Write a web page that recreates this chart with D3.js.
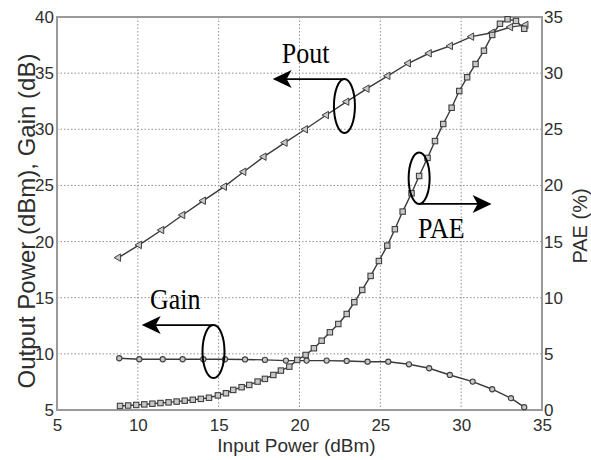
<!DOCTYPE html>
<html>
<head>
<meta charset="utf-8">
<script src="https://cdn.jsdelivr.net/npm/d3@7"></script>
<style>
  html, body { margin: 0; padding: 0; background: #fff; }
  svg { display: block; }
</style>
</head>
<body>
<script>
// ---- Data ----
const poutX = [8.8, 10.09, 11.47, 12.77, 14.05, 15.35, 16.55, 17.8, 19.1, 20.36, 21.66, 22.92, 24.17, 25.46, 26.73, 28.02, 29.33, 30.64, 31.92, 33.05, 34.0];
const poutY = [18.57, 19.7, 21.03, 22.37, 23.64, 24.89, 26.22, 27.56, 28.81, 30.0, 31.27, 32.46, 33.62, 34.76, 35.88, 36.77, 37.42, 38.25, 38.6, 39.1, 39.3];

const gainX = [8.85, 10.09, 11.54, 12.77, 14.05, 15.39, 16.63, 17.86, 19.16, 20.44, 21.68, 22.92, 24.21, 25.49, 26.77, 28.02, 29.3, 30.71, 31.92, 33.08, 33.9];
const gainY = [9.61, 9.52, 9.52, 9.52, 9.52, 9.52, 9.5, 9.46, 9.4, 9.4, 9.4, 9.37, 9.3, 9.3, 9.07, 8.72, 8.12, 7.53, 6.85, 6.05, 5.25];

const paeX = [8.9, 9.4, 9.9, 10.4, 10.9, 11.4, 11.9, 12.4, 12.9, 13.4, 13.9, 14.4,
  14.95, 15.45, 15.9, 16.42, 16.89, 17.41, 17.86, 18.38, 18.85, 19.37, 19.86, 20.38,
  20.89, 21.37, 21.88, 22.4, 22.92, 23.39, 23.88, 24.4, 24.91, 25.43, 25.9, 26.38,
  26.93, 27.4, 27.92, 28.38, 28.89, 29.41, 29.88, 30.37, 30.89, 31.41, 31.92, 32.4,
  32.87, 33.39, 33.9];
const paeY = [0.36, 0.4, 0.45, 0.5, 0.56, 0.62, 0.68, 0.75, 0.83, 0.91, 0.99, 1.09,
  1.3, 1.49, 1.79, 2.03, 2.23, 2.53, 2.77, 3.12, 3.51, 3.86, 4.46, 4.9,
  5.5, 6.17, 6.92, 7.66, 8.55, 9.6, 10.69, 11.94, 13.27, 14.64, 16.1, 17.67,
  19.3, 20.84, 22.45, 23.95, 25.47, 26.92, 28.41, 29.63, 30.81, 32.0, 33.4, 34.4,
  34.8, 34.65, 33.95];

const xTicks = [5, 10, 15, 20, 25, 30, 35];
const yLeftTicks = [5, 10, 15, 20, 25, 30, 35, 40];
const yRightTicks = [0, 5, 10, 15, 20, 25, 30, 35];

const xTitle = "Input Power (dBm)";
const yLeftTitle = "Output Power (dBm), Gain (dB)";
const yRightTitle = "PAE (%)";

// ---- Layout ----
const W = 591, H = 460;
const L = 57, R = 542, T = 17, B = 410;

const svg = d3.select("body").append("svg").attr("width", W).attr("height", H);

const x = d3.scaleLinear().domain([5, 35]).range([L, R]);
const yL = d3.scaleLinear().domain([5, 40]).range([B, T]);
const yR = d3.scaleLinear().domain([0, 35]).range([B, T]);

const gridColor = "#8f8f8f";
const frameColor = "#9a9a9a";
const textColor = "#2e2e2e";

// grid
const grid = svg.append("g");
grid.selectAll("line.gx").data(xTicks.slice(1, -1)).join("line")
  .attr("x1", d => x(d)).attr("x2", d => x(d)).attr("y1", T).attr("y2", B)
  .attr("stroke", gridColor).attr("stroke-width", 1).attr("stroke-dasharray", "1.5,2");
grid.selectAll("line.gy").data(yLeftTicks.slice(1, -1)).join("line")
  .attr("y1", d => yL(d)).attr("y2", d => yL(d)).attr("x1", L).attr("x2", R)
  .attr("stroke", gridColor).attr("stroke-width", 1).attr("stroke-dasharray", "1.5,2");

// frame
svg.append("rect").attr("x", L).attr("y", T).attr("width", R - L).attr("height", B - T)
  .attr("fill", "none").attr("stroke", frameColor).attr("stroke-width", 2);

// axes
const tickFont = "'Liberation Sans', Arial, sans-serif";
function styleAxis(g) {
  g.select(".domain").remove();
  g.selectAll("text").attr("font-family", tickFont).attr("font-size", 17).attr("fill", textColor);
}
svg.append("g").attr("transform", `translate(0,${B})`)
  .call(d3.axisBottom(x).tickValues(xTicks).tickSize(0).tickPadding(9).tickFormat(d3.format("d")))
  .call(styleAxis);
svg.append("g").attr("transform", `translate(${L},0)`)
  .call(d3.axisLeft(yL).tickValues(yLeftTicks).tickSize(0).tickPadding(3).tickFormat(d3.format("d")))
  .call(styleAxis);
svg.append("g").attr("transform", `translate(${R},0)`)
  .call(d3.axisRight(yR).tickValues(yRightTicks).tickSize(0).tickPadding(2).tickFormat(d3.format("d")))
  .call(styleAxis);

// titles
svg.append("text").attr("x", (L + R) / 2 - 3).attr("y", 452).attr("text-anchor", "middle")
  .attr("font-family", tickFont).attr("font-size", 19).attr("fill", textColor).text(xTitle);
svg.append("text").attr("transform", `translate(35,221) rotate(-90)`).attr("text-anchor", "middle")
  .attr("font-family", tickFont).attr("font-size", 24).attr("fill", textColor).text(yLeftTitle);
svg.append("text").attr("transform", `translate(587,226) rotate(-90)`).attr("text-anchor", "middle")
  .attr("font-family", tickFont).attr("font-size", 20).attr("fill", textColor).text(yRightTitle);

// series
const lineColor = "#3a3a3a";
const mkStroke = "#404040";
const mkFill = "#c8c8c8";
function series(xs, ys, yScale) {
  return xs.map((v, i) => [x(v), yScale(ys[i])]);
}
const pout = series(poutX, poutY, yL);
const gain = series(gainX, gainY, yL);
const pae = series(paeX, paeY, yR);
const lg = d3.line();
[pout, gain, pae].forEach(pts => {
  svg.append("path").attr("d", lg(pts)).attr("fill", "none")
    .attr("stroke", lineColor).attr("stroke-width", 1.4);
});
// markers
svg.append("g").selectAll("path").data(pout).join("path")
  .attr("d", d3.symbol(d3.symbolTriangle, 24)())
  .attr("transform", d => `translate(${d[0]},${d[1]}) rotate(-90)`)
  .attr("fill", mkFill).attr("stroke", mkStroke).attr("stroke-width", 1);
svg.append("g").selectAll("circle").data(gain).join("circle")
  .attr("cx", d => d[0]).attr("cy", d => d[1]).attr("r", 2.6)
  .attr("fill", mkFill).attr("stroke", mkStroke).attr("stroke-width", 1.1);
svg.append("g").selectAll("rect").data(pae).join("rect")
  .attr("x", d => d[0] - 2.7).attr("y", d => d[1] - 2.7).attr("width", 5.4).attr("height", 5.4)
  .attr("fill", mkFill).attr("stroke", mkStroke).attr("stroke-width", 1.1);

// annotations (in data coordinates)
const annFont = "'Liberation Serif', 'Times New Roman', serif";
function arrowHead(tx, ty, dir) {
  const len = 19, half = 9, notch = 14;
  const p = [[tx, ty], [tx - dir * len, ty - half], [tx - dir * notch, ty], [tx - dir * len, ty + half]];
  svg.append("path").attr("d", "M" + p.map(q => q.join(",")).join("L") + "Z").attr("fill", "#000");
}
function annotation(o) {
  const cx = x(o.cx), cy = o.yScale(o.cy);
  svg.append("ellipse").attr("cx", cx).attr("cy", cy).attr("rx", o.rx).attr("ry", o.ry)
    .attr("fill", "none").attr("stroke", "#000").attr("stroke-width", 2);
  const ly = o.fromTop ? cy - o.ry : cy + o.ry;
  const tx = x(o.tipX);
  svg.append("line").attr("x1", cx).attr("x2", tx + (o.dir < 0 ? 10 : -10)).attr("y1", ly).attr("y2", ly)
    .attr("stroke", "#000").attr("stroke-width", 1.8);
  arrowHead(tx, ly, o.dir);
  svg.append("text")
    .attr("transform", `translate(${x(o.textX)},${o.yScale(o.textY)}) scale(1,1.12)`)
    .attr("font-family", annFont).attr("font-size", 26).attr("fill", "#000").text(o.label);
}
annotation({ label: "Pout", cx: 22.78, cy: 32.07, yScale: yL, rx: 10.5, ry: 27, fromTop: true, tipX: 18.34, dir: -1, textX: 18.9, textY: 35.9 });
annotation({ label: "Gain", cx: 14.68, cy: 10.2, yScale: yL, rx: 11, ry: 26.5, fromTop: true, tipX: 10.24, dir: -1, textX: 10.75, textY: 14.0 });
annotation({ label: "PAE", cx: 27.4, cy: 20.64, yScale: yR, rx: 10.5, ry: 25.7, fromTop: false, tipX: 31.88, dir: 1, textX: 27.33, textY: 15.32 });
</script>
</body>
</html>
